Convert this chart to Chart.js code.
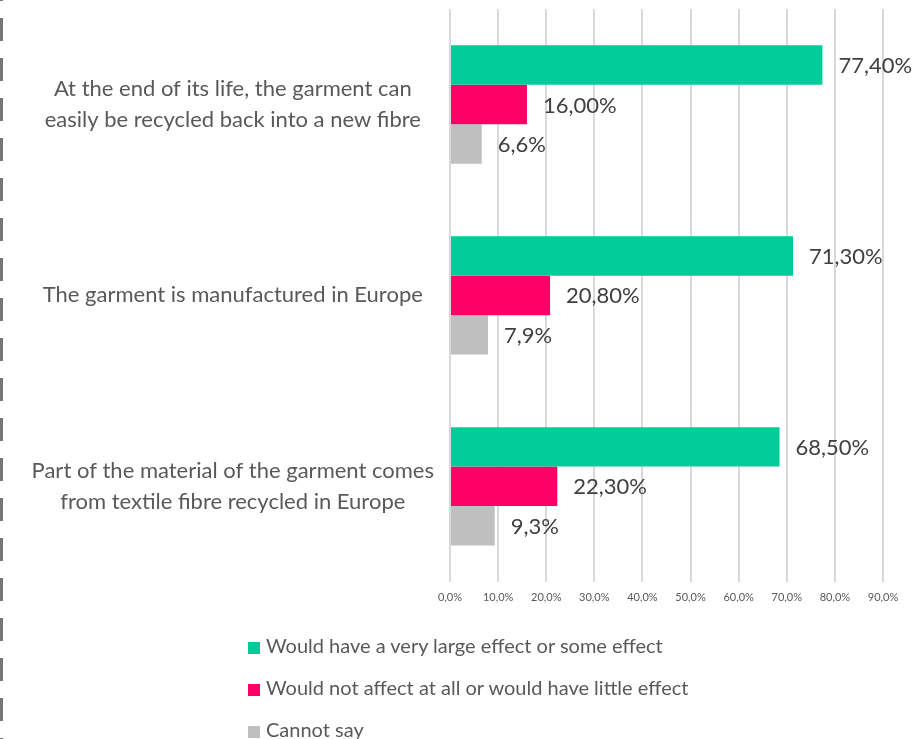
<!DOCTYPE html>
<html>
<head>
<meta charset="utf-8">
<script src="https://cdn.jsdelivr.net/npm/chart.js@4"></script>
<style>
  html, body { margin: 0; padding: 0; background: #fff; }
  #wrap { position: relative; width: 914px; height: 739px; }
  #legend { position: absolute; left: 248px; top: 629px; font-family: Lato, sans-serif; font-size: 20px; color: #595959; }
  #legend div { height: 42px; line-height: 32px; white-space: nowrap; }
  #legend span.box { display: inline-block; width: 12px; height: 12px; margin-right: 6px; vertical-align: -1px; }
</style>
</head>
<body>
<div id="wrap">
  <canvas id="myChart"></canvas>
  <div id="legend"></div>
</div>
<script>
var categories = [
    ['At the end of its life, the garment can', 'easily be recycled back into a new fibre'],
    'The garment is manufactured in Europe',
    ['Part of the material of the garment comes', 'from textile fibre recycled in Europe']
];
var seriesNames = [
    'Would have a very large effect or some effect',
    'Would not affect at all or would have little effect',
    'Cannot say'
];
var largeEffect = [77.4, 71.3, 68.5];
var littleEffect = [16.0, 20.8, 22.3];
var cannotSay = [6.6, 7.9, 9.3];
var labelDecimals = [2, 2, 1];
var colors = ['#00CC99', '#FF0066', '#BFBFBF'];

function pct(v, d) {
    return v.toFixed(d).replace('.', ',') + '%';
}

// dashed grey rule down the left edge
var edgeRule = {
    id: 'edgeRule',
    beforeDraw: function (chart) {
        var c = chart.ctx;
        c.save();
        c.strokeStyle = '#767676';
        c.lineWidth = 3;
        c.setLineDash([23, 17]);
        c.lineDashOffset = 22;
        c.beginPath();
        c.moveTo(1.5, 0);
        c.lineTo(1.5, chart.height);
        c.stroke();
        c.restore();
    }
};

// value labels to the right of every bar
var valueLabels = {
    id: 'valueLabels',
    afterDatasetsDraw: function (chart) {
        var c = chart.ctx;
        c.save();
        c.font = '22px Lato, sans-serif';
        c.fillStyle = '#404040';
        c.textBaseline = 'middle';
        chart.data.datasets.forEach(function (ds, i) {
            chart.getDatasetMeta(i).data.forEach(function (bar, j) {
                c.fillText(pct(ds.data[j], labelDecimals[i]), bar.x + 16, bar.y + 1);
            });
        });
        c.restore();
    }
};

var ctx = document.getElementById('myChart').getContext('2d');
var myChart = new Chart(ctx, {
    type: 'bar',
    data: {
        labels: categories,
        datasets: [
            { label: seriesNames[0], data: largeEffect, backgroundColor: colors[0] },
            { label: seriesNames[1], data: littleEffect, backgroundColor: colors[1] },
            { label: seriesNames[2], data: cannotSay, backgroundColor: colors[2] }
        ]
    },
    options: {
        indexAxis: 'y',
        responsive: true,
        maintainAspectRatio: false,
        animation: false,
        datasets: {
            bar: { categoryPercentage: 0.62, barPercentage: 1 }
        },
        layout: {
            padding: { top: 9, right: 31, bottom: 126, left: 0 }
        },
        plugins: {
            legend: { display: false },
            tooltip: { enabled: false }
        },
        scales: {
            x: {
                min: 0,
                max: 90,
                ticks: {
                    stepSize: 10,
                    padding: 9,
                    color: '#595959',
                    font: { family: 'Lato, sans-serif', size: 11 },
                    callback: function (v) { return pct(v, 1); }
                },
                grid: { color: '#d9d9d9', lineWidth: 2, drawTicks: false },
                border: { display: false }
            },
            y: {
                afterFit: function (scale) {
                    scale.width = 450;
                    scale.paddingTop = 0;
                    scale.paddingBottom = 0;
                },
                ticks: {
                    crossAlign: 'center',
                    padding: 16,
                    color: '#595959',
                    font: { family: 'Lato, sans-serif', size: 22, lineHeight: 1.4 }
                },
                grid: { display: false, drawTicks: false },
                border: { display: false }
            }
        }
    },
    plugins: [edgeRule, valueLabels]
});

// legend stacked one entry per row
var legend = document.getElementById('legend');
myChart.data.datasets.forEach(function (ds) {
    var row = document.createElement('div');
    var box = document.createElement('span');
    box.className = 'box';
    box.style.background = ds.backgroundColor;
    row.appendChild(box);
    row.appendChild(document.createTextNode(ds.label));
    legend.appendChild(row);
});
</script>
</body>
</html>
